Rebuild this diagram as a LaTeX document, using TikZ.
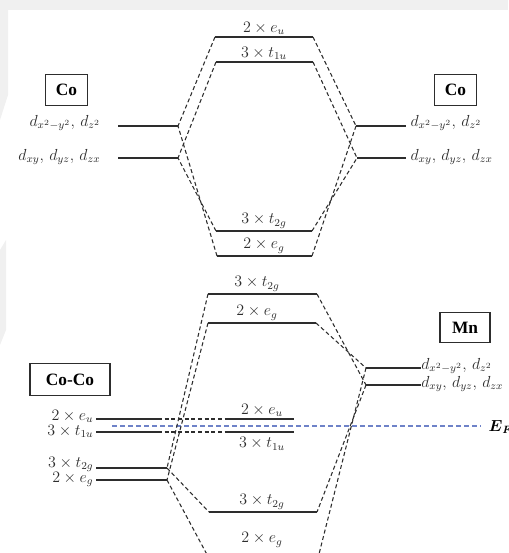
\documentclass[tikz,border=0pt]{standalone}
\usepackage{amsmath}
\usepackage{fontspec}
\setmainfont{Liberation Serif}
\definecolor{efblue}{RGB}{110,130,200}
\definecolor{wm}{RGB}{240,240,240}
\definecolor{ink}{RGB}{45,45,45}
\begin{document}
\begin{tikzpicture}[x=0.75pt,y=-0.75pt,
  lev/.style={draw=ink,line width=0.95pt},
  conn/.style={draw=ink,line width=0.8pt,dash pattern=on 3pt off 2pt},
  efline/.style={draw=efblue,line width=0.8pt,dash pattern=on 3.5pt off 2.5pt},
  atombox/.style={draw=ink,line width=0.9pt,font=\bfseries\fontsize{13}{15}\selectfont,inner sep=0pt},
  lab/.style={text=ink,font=\fontsize{12}{14}\selectfont,inner sep=1pt},
  wmfill/.style={fill=wm}]
\useasboundingbox (0,0) rectangle (508,553);
\clip (0,0) rectangle (508,553);
% faint background watermark
\fill[wmfill] (0,0) rectangle (508,10);
\fill[wmfill] (0,10) -- (8,10) -- (8,95) -- (0,120) -- cycle;
\fill[wmfill] (0,250) -- (6,240) -- (6,330) -- (0,345) -- cycle;

% ================= top diagram =================
\coordinate (TeuL) at (215,37);  \coordinate (TeuR) at (313,37);
\coordinate (TtuL) at (216,62);  \coordinate (TtuR) at (313,62);
\coordinate (TtgL) at (216,231); \coordinate (TtgR) at (312,231);
\coordinate (TegL) at (217,256); \coordinate (TegR) at (312,256);
\coordinate (LdaA) at (118,126); \coordinate (LdaB) at (178,126);
\coordinate (LdbA) at (118,158); \coordinate (LdbB) at (178,158);
\coordinate (RdaA) at (356,126); \coordinate (RdaB) at (406,126);
\coordinate (RdbA) at (357,158); \coordinate (RdbB) at (406,158);

\draw[lev] (TeuL) -- (TeuR);
\draw[lev] (TtuL) -- (TtuR);
\draw[lev] (TtgL) -- (TtgR);
\draw[lev] (TegL) -- (TegR);
\draw[lev] (LdaA) -- (LdaB);
\draw[lev] (LdbA) -- (LdbB);
\draw[lev] (RdaA) -- (RdaB);
\draw[lev] (RdbA) -- (RdbB);

\node[lab,anchor=south] (lTeu) at (264,36) {$2\times e_u$};
\node[lab,anchor=south] (lTtu) at (264,61) {$3\times t_{1u}$};
\node[lab,anchor=south] (lTtg) at (264,230) {$3\times t_{2g}$};
\node[lab,anchor=south] (lTeg) at (264,255) {$2\times e_g$};

\node[atombox,minimum width=32pt,minimum height=23pt] (CoL) at (66.5,90) {Co};
\node[atombox,minimum width=32pt,minimum height=23pt] (CoR) at (455.5,90) {Co};
\node[lab,anchor=east] (lLda) at (102,123) {$d_{x^2-y^2},\,d_{z^2}$};
\node[lab,anchor=east] (lLdb) at (102,157) {$d_{xy},\,d_{yz},\,d_{zx}$};
\node[lab,anchor=west] (lRda) at (409,123) {$d_{x^2-y^2},\,d_{z^2}$};
\node[lab,anchor=west] (lRdb) at (409,157) {$d_{xy},\,d_{yz},\,d_{zx}$};

\draw[conn] (TeuL) -- (LdaB);
\draw[conn] (TtuL) -- (LdbB);
\draw[conn] (TtgL) -- (LdbB);
\draw[conn] (TegL) -- (LdaB);
\draw[conn] (TeuR) -- (RdaA);
\draw[conn] (TtuR) -- (RdbA);
\draw[conn] (TtgR) -- (RdbA);
\draw[conn] (TegR) -- (RdaA);

% ================= bottom diagram =================
\coordinate (AtgL) at (208,294); \coordinate (AtgR) at (317,294);
\coordinate (AegL) at (208,323); \coordinate (AegR) at (316,323);
\coordinate (MdaA) at (366,368); \coordinate (MdaB) at (421,368);
\coordinate (MdbA) at (366,385); \coordinate (MdbB) at (421,385);
\coordinate (CeuA) at (96,419);  \coordinate (CeuB) at (158,419);
\coordinate (CtuA) at (96,432);  \coordinate (CtuB) at (158,432);
\coordinate (MeuL) at (228,419); \coordinate (MeuR) at (294,419);
\coordinate (MtuL) at (228,432); \coordinate (MtuR) at (294,432);
\coordinate (CtgA) at (96,468);  \coordinate (CtgB) at (167,468);
\coordinate (CegA) at (96,480);  \coordinate (CegB) at (167,480);
\coordinate (BtgL) at (209,512); \coordinate (BtgR) at (317,512);
\coordinate (BegL) at (211,562); \coordinate (BegR) at (317,562);
\coordinate (EfA) at (112,426);  \coordinate (EfB) at (481,426);

\draw[lev] (AtgL) -- (AtgR);
\draw[lev] (AegL) -- (AegR);
\draw[lev] (MdaA) -- (MdaB);
\draw[lev] (MdbA) -- (MdbB);
\draw[lev] (CeuA) -- (CeuB);
\draw[lev] (CtuA) -- (CtuB);
\draw[lev] (MeuL) -- (MeuR);
\draw[lev] (MtuL) -- (MtuR);
\draw[lev] (CtgA) -- (CtgB);
\draw[lev] (CegA) -- (CegB);
\draw[lev] (BtgL) -- (BtgR);
\draw[lev] (BegL) -- (BegR);

\draw[conn] (CeuB) -- (MeuL);
\draw[conn] (CtuB) -- (MtuL);
\draw[efline] (EfA) -- (EfB);

\node[lab,anchor=south] (lAtg) at (257,293) {$3\times t_{2g}$};
\node[lab,anchor=south] (lAeg) at (257,322) {$2\times e_g$};
\node[lab,anchor=south] (lMeu) at (262,418) {$2\times e_u$};
\node[lab,anchor=north] (lMtu) at (262,436) {$3\times t_{1u}$};
\node[lab,anchor=south] (lBtg) at (262,511) {$3\times t_{2g}$};
\node[lab] (lBeg) at (262,540) {$2\times e_g$};

\node[atombox,minimum width=37.5pt,minimum height=23pt] (Mn) at (465,327.5) {Mn};
\node[atombox,minimum width=60pt,minimum height=24.5pt] (CoCo) at (70,379.5) {Co-Co};
\node[lab,anchor=west,inner sep=0pt] (lMda) at (421,366) {$d_{x^2-y^2},\,d_{z^2}$};
\node[lab,anchor=west,inner sep=0pt] (lMdb) at (421,384) {$d_{xy},\,d_{yz},\,d_{zx}$};
\node[lab,anchor=base east] (lCeu) at (95,420) {$2\times e_u$};
\node[lab,anchor=base east] (lCtu) at (95,435) {$3\times t_{1u}$};
\node[lab,anchor=base east] (lCtg) at (95,467) {$3\times t_{2g}$};
\node[lab,anchor=base east] (lCeg) at (95,482) {$2\times e_g$};
\node[lab,anchor=west,text=black] (lEf) at (487,427) {$\boldsymbol{E}_{\boldsymbol{F}}$};

\draw[conn] (AtgL) -- (CtgB);
\draw[conn] (AegL) -- (CegB);
\draw[conn] (CtgB) -- (BtgL);
\draw[conn] (CegB) -- (BegL);
\draw[conn] (AtgR) -- (MdbA);
\draw[conn] (AegR) -- (MdaA);
\draw[conn] (MdbA) -- (BtgR);
\draw[conn] (MdaA) -- (BegR);
\end{tikzpicture}
\end{document}
